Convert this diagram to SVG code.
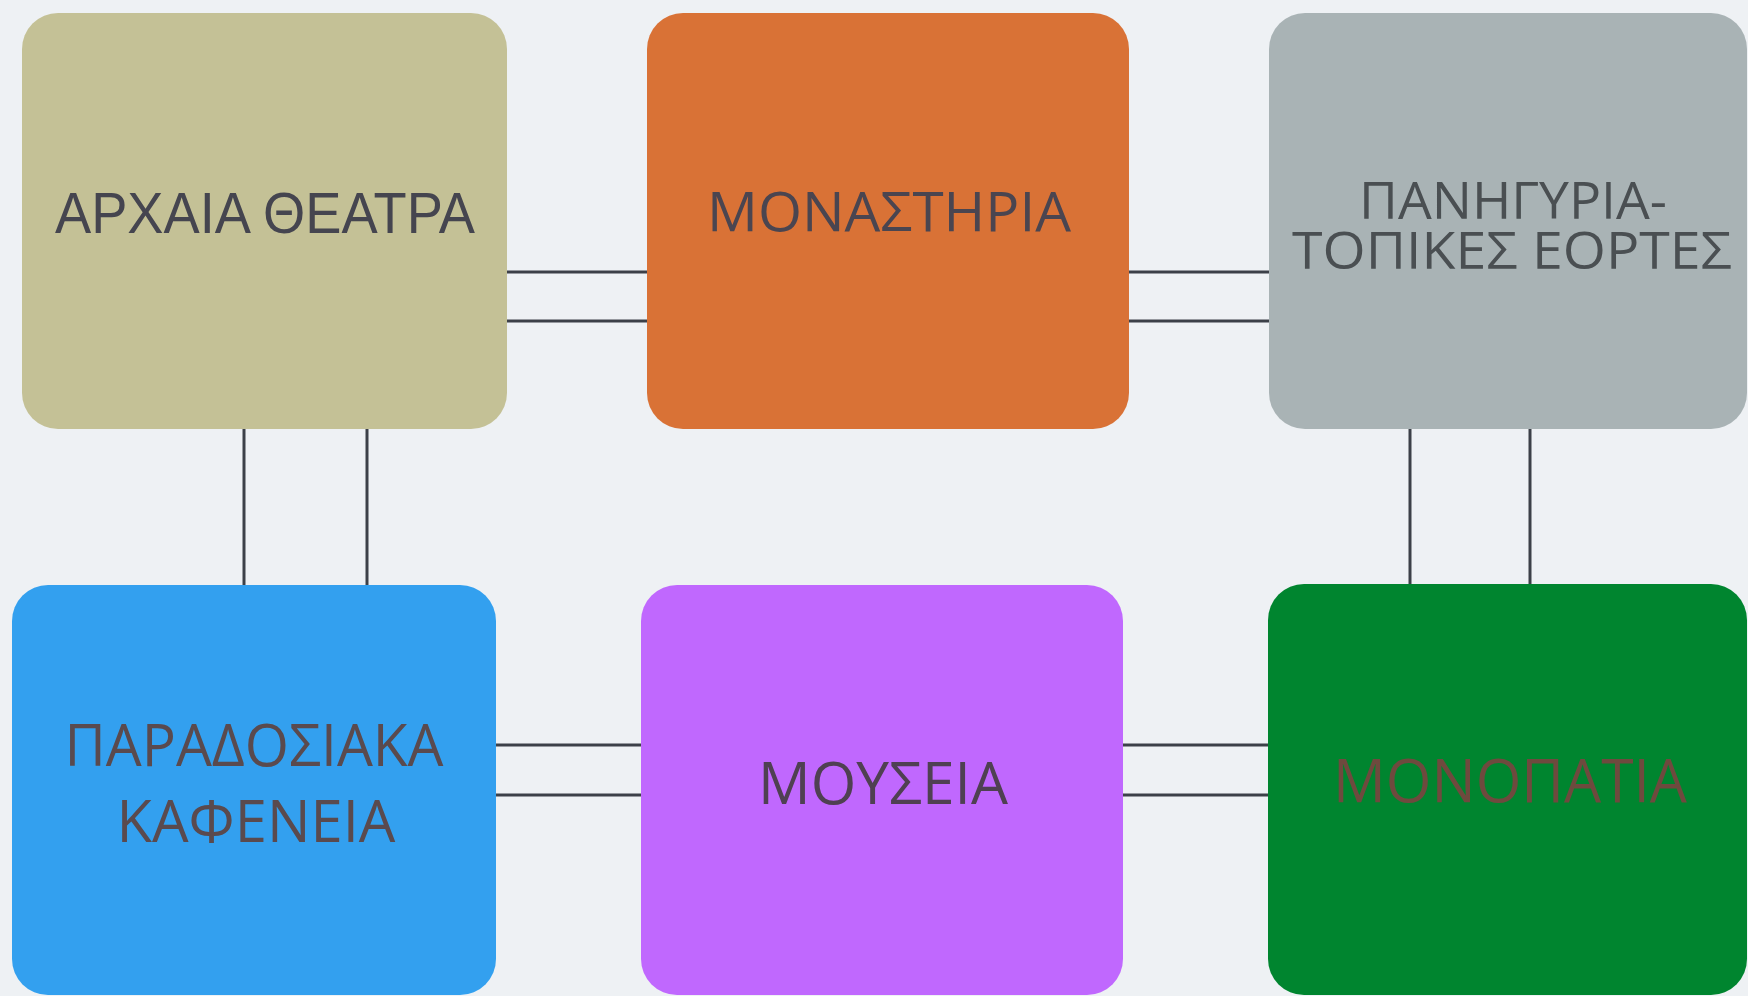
<svg xmlns="http://www.w3.org/2000/svg" width="1748" height="996" viewBox="0 0 1748 996">
  <style>
    .box { stroke: none; }
    .lbl { font-family: "Open Sans", "Noto Sans", "DejaVu Sans", sans-serif; text-anchor: middle; }
    .conn { stroke: #3c4048; stroke-width: 3; fill: none; }
  </style>
  <rect x="0" y="0" width="1748" height="996" fill="#eef1f4"/>
  <g id="connectors">
    <line class="conn" x1="507" y1="272" x2="647" y2="272"/>
    <line class="conn" x1="507" y1="321" x2="647" y2="321"/>
    <line class="conn" x1="1129" y1="272" x2="1269" y2="272"/>
    <line class="conn" x1="1129" y1="321" x2="1269" y2="321"/>
    <line class="conn" x1="244" y1="428" x2="244" y2="586"/>
    <line class="conn" x1="367" y1="428" x2="367" y2="586"/>
    <line class="conn" x1="1410" y1="428" x2="1410" y2="585"/>
    <line class="conn" x1="1530" y1="428" x2="1530" y2="585"/>
    <line class="conn" x1="496" y1="745" x2="641" y2="745"/>
    <line class="conn" x1="496" y1="795" x2="641" y2="795"/>
    <line class="conn" x1="1123" y1="745" x2="1268" y2="745"/>
    <line class="conn" x1="1123" y1="795" x2="1268" y2="795"/>
  </g>
  <g id="node-archaia-theatra">
    <rect class="box" x="22" y="13" width="485" height="416" rx="36" fill="#c4c196"/>
    <text class="lbl" x="265" y="233" font-size="58" fill="#45454f" style="font-family:'Liberation Sans', Arial, sans-serif" textLength="420" lengthAdjust="spacingAndGlyphs">ΑΡΧΑΙΑ ΘΕΑΤΡΑ</text>
  </g>
  <g id="node-monastiria">
    <rect class="box" x="647" y="13" width="482" height="416" rx="36" fill="#d97236"/>
    <text class="lbl" x="889" y="231" font-size="55" fill="#4a4550" textLength="364" lengthAdjust="spacingAndGlyphs">ΜΟΝΑΣΤΗΡΙΑ</text>
  </g>
  <g id="node-panigyria">
    <rect class="box" x="1269" y="13" width="478" height="416" rx="36" fill="#a9b3b5"/>
    <text class="lbl" x="1513" y="219" font-size="51" fill="#4a4f52" textLength="308" lengthAdjust="spacingAndGlyphs">ΠΑΝΗΓΥΡΙΑ-</text>
    <text class="lbl" x="1512" y="269" font-size="51" fill="#4a4f52" textLength="440" lengthAdjust="spacingAndGlyphs">ΤΟΠΙΚΕΣ ΕΟΡΤΕΣ</text>
  </g>
  <g id="node-paradosiaka-kafeneia">
    <rect class="box" x="12" y="585" width="484" height="410" rx="36" fill="#33a0ef"/>
    <text class="lbl" x="254" y="766" font-size="58" fill="#5a4a4e" textLength="379" lengthAdjust="spacingAndGlyphs">ΠΑΡΑΔΟΣΙΑΚΑ</text>
    <text class="lbl" x="256" y="842" font-size="58" fill="#5a4a4e" textLength="279" lengthAdjust="spacingAndGlyphs">ΚΑΦΕΝΕΙΑ</text>
  </g>
  <g id="node-mouseia">
    <rect class="box" x="641" y="585" width="482" height="410" rx="36" fill="#c068fe"/>
    <text class="lbl" x="883" y="804" font-size="59" fill="#4f4052" textLength="250" lengthAdjust="spacingAndGlyphs">ΜΟΥΣΕΙΑ</text>
  </g>
  <g id="node-monopatia">
    <rect class="box" x="1268" y="584" width="479" height="411" rx="36" fill="#00852f"/>
    <text class="lbl" x="1510" y="802" font-size="60" fill="#6e4a3e" textLength="354" lengthAdjust="spacingAndGlyphs">ΜΟΝΟΠΑΤΙΑ</text>
  </g>
</svg>
